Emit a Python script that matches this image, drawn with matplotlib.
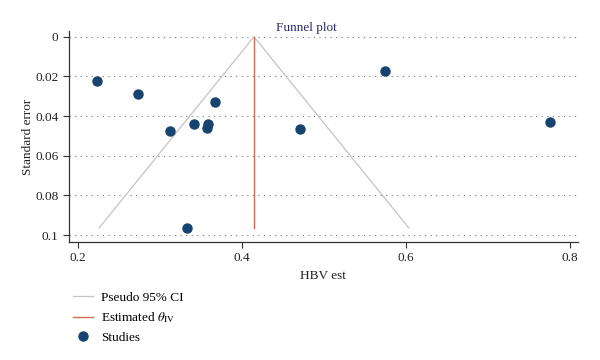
import matplotlib
matplotlib.use("Agg")
import matplotlib.pyplot as plt
import numpy as np

plt.rcParams['font.family'] = ['Liberation Serif', 'DejaVu Serif']
plt.rcParams['mathtext.fontset'] = 'stix'

# Data
study_est = [0.2235, 0.273, 0.367, 0.3126, 0.3418, 0.3585, 0.3577, 0.3333, 0.471, 0.575, 0.7764]
study_se = [0.0221, 0.029, 0.0327, 0.0473, 0.0440, 0.0440, 0.0460, 0.0963, 0.0463, 0.0175, 0.0431]
theta_iv = 0.415
se_max = 0.0963
x_ticks = [0.2, 0.4, 0.6, 0.8]
x_ticklabels = ["0.2", "0.4", "0.6", "0.8"]
y_ticks = [0, 0.02, 0.04, 0.06, 0.08, 0.1]
y_ticklabels = ["0", "0.02", "0.04", "0.06", "0.08", "0.1"]

fig = plt.figure(figsize=(6, 3.6), dpi=100)
ax = fig.add_axes([0.115, 0.328, 0.848, 0.586])

ci_color = '#c4c4c4'
est_color = '#cf6a55'
pt_color = '#16436f'

se_line = [se_max, 0, se_max]
ci_line = [theta_iv - 1.96 * se_max, theta_iv, theta_iv + 1.96 * se_max]
l1, = ax.plot(ci_line, se_line, color=ci_color, lw=0.9, label='Pseudo 95% CI')
l2, = ax.plot([theta_iv, theta_iv], [0, se_max], color=est_color, lw=1.0,
              label=r'Estimated $\theta_{\mathrm{IV}}$')
l3, = ax.plot(study_est, study_se, 'o', color=pt_color, ms=6.5, label='Studies',
              linestyle='none', zorder=3)

ax.set_xlim(0.1894, 0.810)
ax.set_ylim(0.1034, -0.0029)
ax.set_xticks(x_ticks)
ax.set_xticklabels(x_ticklabels)
ax.set_yticks(y_ticks)
ax.set_yticklabels(y_ticklabels)
ax.tick_params(labelsize=9.5, length=4, width=0.8, color='#333333')
for t in ax.get_xticklabels() + ax.get_yticklabels():
    t.set_color('#222222')

ax.yaxis.grid(True, linestyle=(0, (1, 4)), color='#777777', lw=0.8)
ax.xaxis.grid(False)
ax.set_axisbelow(True)
for s in ['top', 'right']:
    ax.spines[s].set_visible(False)
for s in ['left', 'bottom']:
    ax.spines[s].set_color('#333333')
    ax.spines[s].set_linewidth(0.9)

ax.set_xlabel('HBV est', fontsize=9.5, color='#222222', labelpad=4)
ax.set_ylabel('Standard error', fontsize=9.5, color='#222222', labelpad=1)
fig.text(0.51, 0.923, 'Funnel plot', ha='center', va='center', fontsize=9.5,
         color='#2a2c6a')

fig.legend(handles=[l1, l2, l3], loc='upper left', bbox_to_anchor=(0.113, 0.205),
           frameon=False, fontsize=9.5, handlelength=1.5, handletextpad=0.6,
           labelspacing=0.5, borderaxespad=0)

fig.savefig('out.png', dpi=100)
